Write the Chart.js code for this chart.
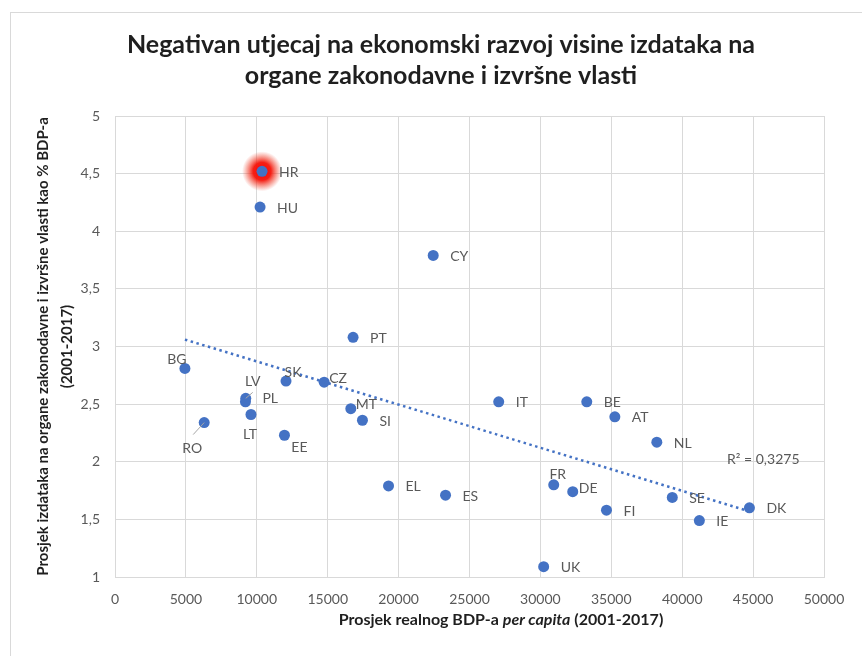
<!DOCTYPE html>
<html>
<head>
<meta charset="utf-8">
<script src="https://cdn.jsdelivr.net/npm/chart.js@4"></script>
<style>
  html, body { margin: 0; padding: 0; background: #fff; overflow: hidden; }
  #frame { position: absolute; left: 10px; top: 12px; width: 900px; height: 700px; border: 1px solid #d9d9d9; }
  #chart { position: absolute; left: 0; top: 0; }
</style>
</head>
<body>
<div id="frame"></div>
<canvas id="chart" width="862" height="656"></canvas>
<script>
// ============================================
// Izdaci za zakonodavnu i izvršnu vlast vs. BDP per capita
// ============================================

const countries = ['HR', 'HU', 'CY', 'PT', 'BG', 'SK', 'CZ', 'LV', 'PL', 'LT', 'MT', 'SI', 'RO', 'EE',
  'EL', 'ES', 'IT', 'BE', 'AT', 'NL', 'FR', 'DE', 'FI', 'SE', 'IE', 'DK', 'UK'];
const gdpPerCapita = [10370, 10230, 22440, 16790, 4930, 12060, 14750, 9220, 9200, 9590, 16630, 17450, 6290, 11950,
  19290, 23310, 27060, 33270, 35250, 38210, 30940, 32280, 34660, 39300, 41210, 44740, 30230];
const spendingShare = [4.52, 4.21, 3.79, 3.08, 2.81, 2.70, 2.69, 2.55, 2.52, 2.41, 2.46, 2.36, 2.34, 2.23,
  1.79, 1.71, 2.52, 2.52, 2.39, 2.17, 1.80, 1.74, 1.58, 1.69, 1.49, 1.60, 1.09];

// linear trendline, end points
const trendGdp = [4930, 44740];
const trendShare = [3.06, 1.57];
const rSquaredText = 'R² = 0,3275';
const highlighted = 'HR';

const titleLines = ['Negativan utjecaj na ekonomski razvoj visine izdataka na', 'organe zakonodavne i izvršne vlasti'];
const yTitleLines = ['Prosjek izdataka na organe zakonodavne i izvršne vlasti kao % BDP-a', '(2001-2017)'];
const xTitleParts = [
  { text: 'Prosjek realnog BDP-a ', italic: false },
  { text: 'per capita', italic: true },
  { text: ' (2001-2017)', italic: false }
];

const FONT = "Lato, 'Open Sans', sans-serif";
const BLUE = '#4472C4';
const GREY_TEXT = '#595959';
const GRID = '#d9d9d9';

// label placement (pixels from the point); default is right of the point
const labelDefault = { dx: 17, dy: 1, align: 'left' };
const labelPlacement = {
  BG: { dx: -8, dy: -9, align: 'center' },
  SK: { dx: 7, dy: -9, align: 'center' },
  CZ: { dx: 5, dy: -4, align: 'left' },
  LV: { dx: 7, dy: -17, align: 'center', leader: [7, -6] },
  PL: { dx: 17, dy: -3, align: 'left' },
  LT: { dx: -1, dy: 20, align: 'center' },
  RO: { dx: -12, dy: 26, align: 'center', leader: [-11, 12] },
  EE: { dx: 15, dy: 12, align: 'center' },
  MT: { dx: 5, dy: -4, align: 'left' },
  FR: { dx: 4, dy: -10, align: 'center' },
  DE: { dx: 6, dy: -3, align: 'left' }
};

const points = countries.map((c, i) => ({ x: gdpPerCapita[i], y: spendingShare[i] }));
const trend = trendGdp.map((x, i) => ({ x, y: trendShare[i] }));

const glowPlugin = {
  id: 'glow',
  beforeDatasetsDraw(chart) {
    const pt = chart.getDatasetMeta(0).data[countries.indexOf(highlighted)];
    if (!pt) return;
    const ctx = chart.ctx;
    const r = 20;
    const g = ctx.createRadialGradient(pt.x, pt.y, 0, pt.x, pt.y, r);
    g.addColorStop(0, 'rgba(255,0,0,1)');
    g.addColorStop(0.45, 'rgba(245,20,10,0.95)');
    g.addColorStop(0.75, 'rgba(240,60,40,0.45)');
    g.addColorStop(1, 'rgba(240,80,60,0)');
    ctx.save();
    ctx.fillStyle = g;
    ctx.beginPath();
    ctx.arc(pt.x, pt.y, r, 0, Math.PI * 2);
    ctx.fill();
    ctx.restore();
  }
};

const labelPlugin = {
  id: 'pointLabels',
  afterDatasetsDraw(chart) {
    const ctx = chart.ctx;
    const meta = chart.getDatasetMeta(0);
    ctx.save();
    ctx.font = `14px ${FONT}`;
    ctx.fillStyle = GREY_TEXT;
    ctx.textBaseline = 'middle';
    meta.data.forEach((pt, i) => {
      const p = labelPlacement[countries[i]] || labelDefault;
      if (p.leader) {
        ctx.strokeStyle = '#a6a6a6';
        ctx.lineWidth = 1;
        ctx.beginPath();
        ctx.moveTo(pt.x, pt.y);
        ctx.lineTo(pt.x + p.leader[0], pt.y + p.leader[1]);
        ctx.stroke();
      }
      ctx.textAlign = p.align;
      ctx.fillText(countries[i], pt.x + p.dx, pt.y + p.dy);
    });

    // R² of the trendline
    const area = chart.chartArea;
    ctx.textAlign = 'left';
    ctx.fillText(rSquaredText, area.right - 97, 459);
    ctx.restore();
  }
};

const titlesPlugin = {
  id: 'titles',
  afterDraw(chart) {
    const ctx = chart.ctx;
    ctx.save();
    ctx.fillStyle = '#1f1f1f';
    ctx.textAlign = 'center';
    ctx.textBaseline = 'middle';
    ctx.font = `bold 25px ${FONT}`;
    titleLines.forEach((line, i) => ctx.fillText(line, 441, 45 + i * 31));

    // x axis title, "per capita" in italics
    const fonts = xTitleParts.map(p => `${p.italic ? 'italic ' : ''}bold 16px ${FONT}`);
    const widths = xTitleParts.map((p, i) => { ctx.font = fonts[i]; return ctx.measureText(p.text).width; });
    let x = 501 - widths.reduce((a, b) => a + b, 0) / 2;
    ctx.textAlign = 'left';
    xTitleParts.forEach((p, i) => {
      ctx.font = fonts[i];
      ctx.fillText(p.text, x, 620);
      x += widths[i];
    });
    ctx.restore();
  }
};

new Chart(document.getElementById('chart'), {
  type: 'scatter',
  data: {
    datasets: [
      {
        label: 'Države',
        data: points,
        backgroundColor: BLUE,
        borderColor: BLUE,
        borderWidth: 0,
        pointRadius: 5.5,
        order: 1
      },
      {
        label: 'Trend',
        data: trend,
        showLine: true,
        borderColor: BLUE,
        borderWidth: 2.5,
        borderDash: [2.5, 3.5],
        pointRadius: 0,
        fill: false,
        order: 0
      }
    ]
  },
  plugins: [glowPlugin, labelPlugin, titlesPlugin],
  options: {
    responsive: false,
    animation: false,
    layout: { padding: { top: 116, right: 38, bottom: 0, left: 0 } },
    plugins: {
      legend: { display: false },
      tooltip: { enabled: false },
      title: { display: false }
    },
    scales: {
      x: {
        type: 'linear',
        min: 0,
        max: 50000,
        afterFit: scale => { scale.height = 79; },
        ticks: {
          stepSize: 5000,
          color: GREY_TEXT,
          font: { family: FONT, size: 14 },
          padding: 14,
          maxRotation: 0,
          callback: v => String(v)
        },
        grid: { color: GRID, drawTicks: false },
        border: { color: GRID }
      },
      y: {
        min: 1,
        max: 5,
        afterFit: scale => { scale.width = 115; },
        ticks: {
          stepSize: 0.5,
          color: GREY_TEXT,
          font: { family: FONT, size: 14 },
          padding: 15,
          callback: v => String(v).replace('.', ',')
        },
        grid: { color: GRID, drawTicks: false },
        border: { color: GRID },
        title: {
          display: true,
          text: yTitleLines,
          color: '#1f1f1f',
          font: { family: FONT, size: 15, weight: 'bold', lineHeight: 24 / 15 },
          padding: { top: 31, bottom: 0 }
        }
      }
    }
  }
});
</script>
</body>
</html>
